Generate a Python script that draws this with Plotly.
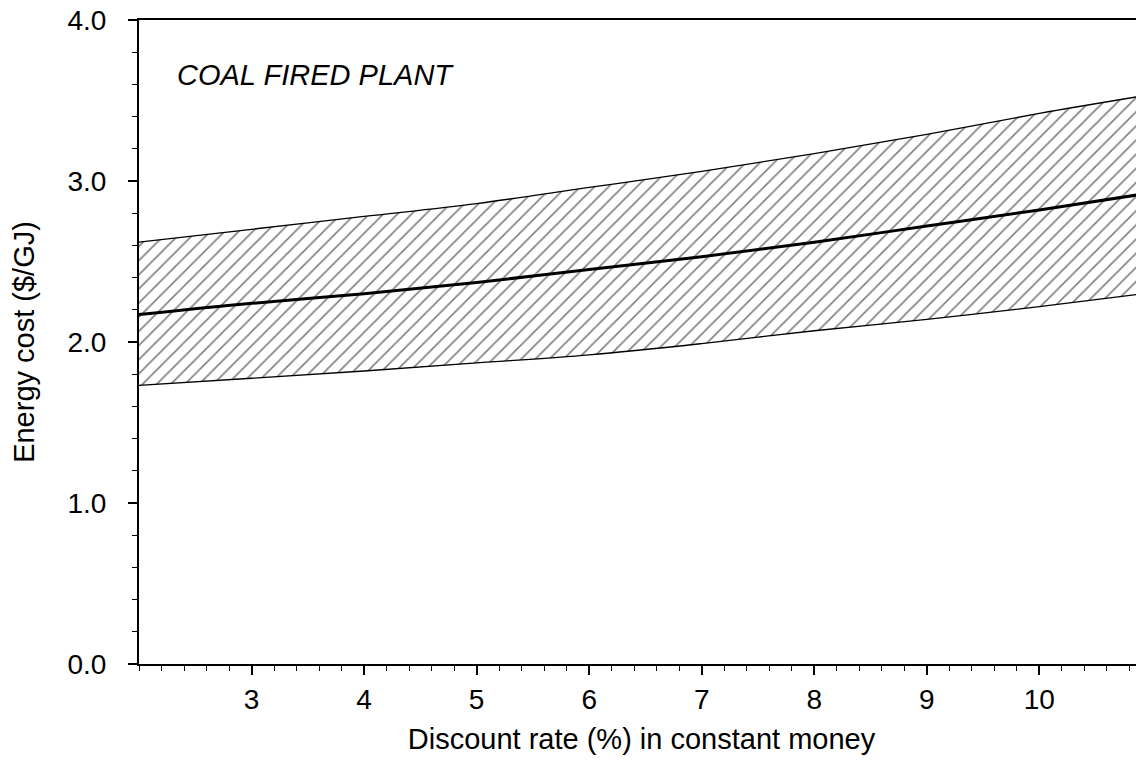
import plotly.graph_objects as go

# Data
rate = [2.0, 3.0, 4.0, 5.0, 6.0, 7.0, 8.0, 9.0, 10.0, 10.93]
cost_upper = [2.62, 2.70, 2.78, 2.86, 2.96, 3.06, 3.17, 3.29, 3.42, 3.53]
cost_mid = [2.17, 2.24, 2.30, 2.37, 2.45, 2.53, 2.62, 2.72, 2.82, 2.92]
cost_lower = [1.73, 1.775, 1.82, 1.87, 1.92, 1.99, 2.07, 2.14, 2.22, 2.30]
x_ticks = [3, 4, 5, 6, 7, 8, 9, 10]
y_ticks = [0, 1, 2, 3, 4]
y_ticklabels = ["0.0", "1.0", "2.0", "3.0", "4.0"]

FONT = "Liberation Sans, Arial, sans-serif"
FS = 28

fig = go.Figure()
fig.add_trace(go.Scatter(
    x=rate, y=cost_lower, mode="lines", line=dict(color="black", width=1.3, shape="spline"),
    showlegend=False, hoverinfo="skip"))
fig.add_trace(go.Scatter(
    x=rate, y=cost_upper, mode="lines", line=dict(color="black", width=1.3, shape="spline"),
    fill="tonexty", fillcolor="white",
    fillpattern=dict(shape="/", fgcolor="black", bgcolor="white", size=10, solidity=0.16),
    showlegend=False, hoverinfo="skip"))
fig.add_trace(go.Scatter(
    x=rate, y=cost_mid, mode="lines", line=dict(color="black", width=3, shape="spline"),
    showlegend=False, hoverinfo="skip"))

fig.add_annotation(
    x=2.32, y=3.658, xref="x", yref="y", text="<i>COAL FIRED PLANT</i>",
    showarrow=False, xanchor="left", yanchor="middle",
    font=dict(family=FONT, size=29, color="black"))

fig.update_layout(
    width=1136, height=752,
    margin=dict(l=131, r=0, t=12, b=96),
    paper_bgcolor="white", plot_bgcolor="white",
    font=dict(family=FONT, size=FS, color="black"),
    xaxis=dict(
        range=[2.0, 10.93], tickmode="array", tickvals=x_ticks,
        ticks="outside", ticklen=9, tickwidth=1.5, tickcolor="black",
        minor=dict(dtick=0.2, tick0=2, ticks="outside", ticklen=5, tickwidth=1.2, tickcolor="black"),
        showline=True, linewidth=2, linecolor="black", mirror=True,
        showgrid=False, zeroline=False, automargin=False,
        ticklabeloverflow="allow",
        title=dict(text="Discount rate (%) in constant money", font=dict(size=29), standoff=15),
        tickfont=dict(size=FS),
    ),
    yaxis=dict(
        range=[0, 4.0], tickmode="array", tickvals=y_ticks, ticktext=y_ticklabels,
        ticks="outside", ticklen=9, tickwidth=1.5, tickcolor="black",
        minor=dict(dtick=0.2, tick0=0, ticks="outside", ticklen=5, tickwidth=1.2, tickcolor="black"),
        showline=True, linewidth=2, linecolor="black", mirror=False,
        showgrid=False, zeroline=False, automargin=False,
        ticklabelstandoff=16, ticklabeloverflow="allow",
        title=dict(text="Energy cost ($/GJ)", font=dict(size=29), standoff=24),
        tickfont=dict(size=FS),
    ),
)

fig.write_html("out.html")
